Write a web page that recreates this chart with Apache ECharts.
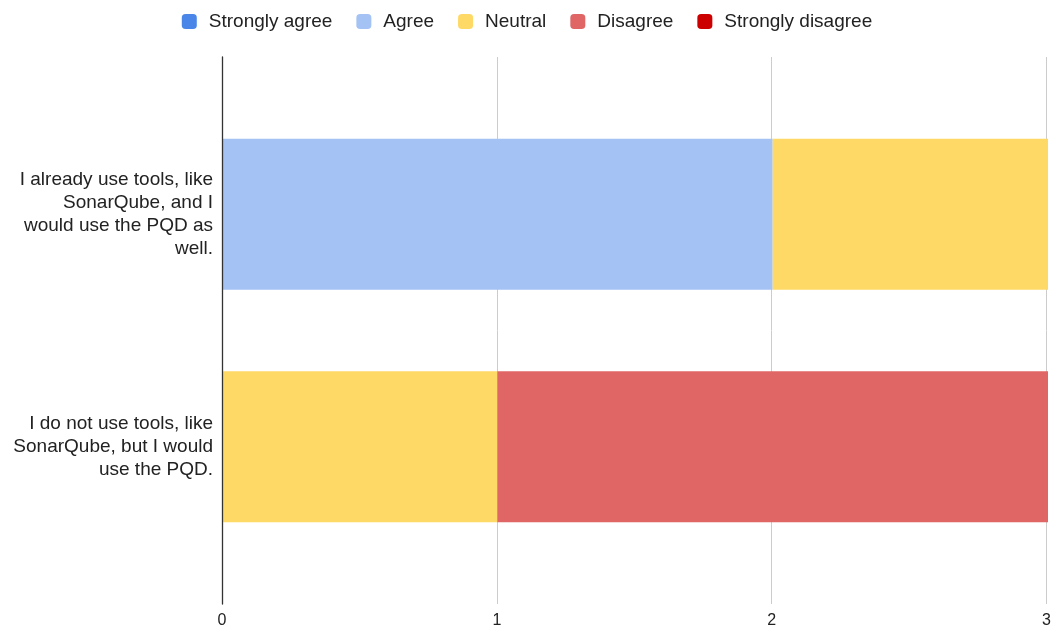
<!DOCTYPE html>
<html>
<head>
<meta charset="utf-8">
<script src="https://cdn.jsdelivr.net/npm/echarts@6/dist/echarts.min.js"></script>
<style>
  html, body { margin: 0; padding: 0; background: #fff; }
  #chart { width: 1054px; height: 629px; }
</style>
</head>
<body>
<div id="chart"></div>
<script>
// Survey statements (top to bottom) and answer counts per response level
const statements = [
  'I already use tools, like\nSonarQube, and I\nwould use the PQD as\nwell.',
  'I do not use tools, like\nSonarQube, but I would\nuse the PQD.'
];
const responseLevels = ['Strongly agree', 'Agree', 'Neutral', 'Disagree', 'Strongly disagree'];
const levelColors = ['#4a86e8', '#a4c2f4', '#ffd966', '#e06666', '#cc0000'];
const stronglyAgree = [0, 0];
const agree = [2, 0];
const neutral = [1, 1];
const disagree = [0, 2];
const stronglyDisagree = [0, 0];
const countTicks = [0, 1, 2, 3];

const seriesValues = [stronglyAgree, agree, neutral, disagree, stronglyDisagree];
const font = '"Liberation Sans", Arial, sans-serif';

const chart = echarts.init(document.getElementById('chart'), null, { renderer: 'canvas' });

chart.setOption({
  animation: false,
  color: levelColors,
  legend: {
    data: responseLevels,
    top: 7,
    left: 'center',
    icon: 'roundRect',
    itemWidth: 15,
    itemHeight: 15,
    itemGap: 24,
    textStyle: { fontFamily: font, fontSize: 19, color: '#222', padding: [0, 0, 0, 7] }
  },
  grid: [
    // frame with gridlines and count axis
    { left: 222, right: 6, top: 57, bottom: 25 },
    // bars
    { left: 222, right: 6, top: 98, bottom: 66 }
  ],
  xAxis: [
    {
      gridIndex: 0,
      type: 'value',
      min: countTicks[0],
      max: countTicks[countTicks.length - 1],
      interval: 1,
      axisLine: { show: false },
      axisTick: { show: false },
      splitLine: { show: true, lineStyle: { color: '#cccccc', width: 1 } },
      axisLabel: { fontFamily: font, fontSize: 16, color: '#222', margin: 9 }
    },
    {
      gridIndex: 1,
      type: 'value',
      min: countTicks[0],
      max: countTicks[countTicks.length - 1],
      show: false
    }
  ],
  yAxis: [
    {
      // baseline at zero, drawn above the bars
      gridIndex: 0,
      type: 'category',
      data: [''],
      z: 10,
      axisLine: { show: true, lineStyle: { color: '#333', width: 1.3 } },
      axisTick: { show: false },
      axisLabel: { show: false },
      splitLine: { show: false }
    },
    {
      gridIndex: 1,
      type: 'category',
      inverse: true,
      data: statements,
      axisLine: { show: false },
      axisTick: { show: false },
      splitLine: { show: false },
      axisLabel: {
        fontFamily: font,
        fontSize: 19,
        lineHeight: 23,
        color: '#222',
        margin: 9,
        align: 'right'
      }
    }
  ],
  series: responseLevels.map((name, i) => ({
    name,
    type: 'bar',
    stack: 'answers',
    xAxisIndex: 1,
    yAxisIndex: 1,
    barWidth: 151,
    data: seriesValues[i],
    itemStyle: { color: levelColors[i] }
  }))
});
</script>
</body>
</html>
